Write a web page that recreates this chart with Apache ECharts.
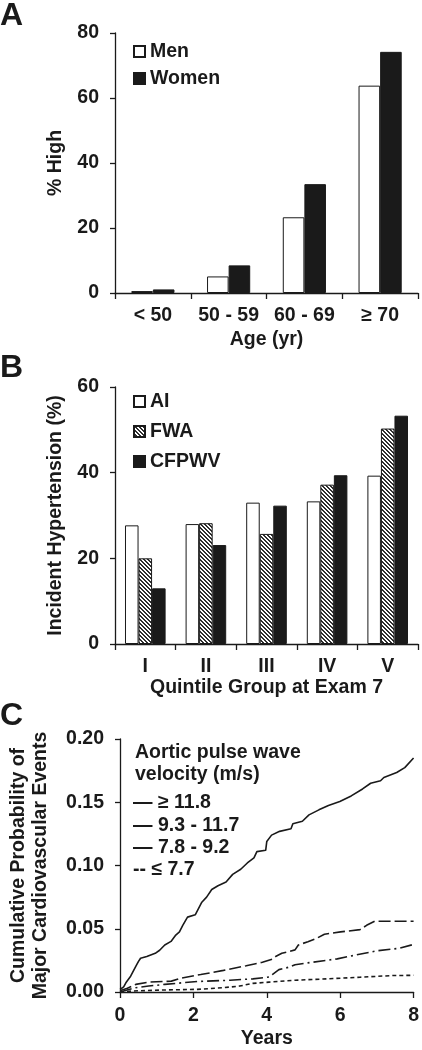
<!DOCTYPE html>
<html>
<head>
<meta charset="utf-8">
<script src="https://cdn.jsdelivr.net/npm/echarts@6/dist/echarts.min.js"></script>
<style>
html,body{margin:0;padding:0;background:#fff;}
#chart{width:422px;height:1050px;}
</style>
</head>
<body>
<div id="chart"></div>
<script>
// ---------- DATA ----------
const ageGroups = ['< 50', '50 - 59', '60 - 69', '\u2265 70'];
const menHigh = [0.6, 5.1, 23.3, 63.8];
const womenHigh = [1.1, 8.5, 33.5, 74.2];

const quintiles = ['I', 'II', 'III', 'IV', 'V'];
const aiIncident = [27.7, 28.0, 33.0, 33.3, 39.3];
const fwaIncident = [20.0, 28.2, 25.7, 37.2, 50.3];
const cfpwvIncident = [13.0, 23.1, 32.3, 39.4, 53.3];

const pwvLegendLines = ['\u2014 \u2265 11.8', '\u2014 9.3 - 11.7', '\u2014 7.8 - 9.2', '-- \u2264 7.7'];

const pwvHigh = [[0,0.002],[0.1,0.004],[0.16,0.0073],[0.29,0.0125],[0.43,0.0203],[0.5,0.024],[0.56,0.0267],[0.73,0.028],[0.96,0.0306],[1.08,0.033],[1.22,0.0372],[1.39,0.040],[1.52,0.045],[1.62,0.0475],[1.71,0.0527],[1.84,0.0592],[2.05,0.061],[2.23,0.071],[2.36,0.075],[2.50,0.081],[2.67,0.084],[2.89,0.087],[3.07,0.093],[3.29,0.097],[3.47,0.102],[3.65,0.106],[3.73,0.111],[3.97,0.112],[4.0,0.119],[4.13,0.124],[4.35,0.127],[4.66,0.129],[4.71,0.133],[4.97,0.135],[5.15,0.140],[5.42,0.144],[5.68,0.1475],[5.99,0.1506],[6.30,0.155],[6.61,0.1605],[6.83,0.165],[7.10,0.167],[7.19,0.1696],[7.54,0.1735],[7.76,0.1774],[8.0,0.185]];
const pwvMidHigh = [[0,0.001],[0.2,0.003],[0.43,0.006],[0.78,0.0078],[1.4,0.0086],[1.67,0.011],[2.2,0.0138],[2.82,0.0171],[3.44,0.0208],[3.88,0.0235],[4.15,0.026],[4.24,0.028],[4.41,0.0306],[4.77,0.0333],[4.86,0.0372],[5.12,0.0397],[5.35,0.0423],[5.57,0.0457],[6.01,0.0475],[6.54,0.0493],[6.72,0.0527],[6.94,0.0559],[8.0,0.0559]];
const pwvMidLow = [[0,0],[0.43,0.0034],[0.78,0.0047],[1.22,0.006],[1.67,0.0072],[2.11,0.0083],[3.0,0.0093],[3.62,0.0104],[4.06,0.0118],[4.15,0.0138],[4.33,0.0177],[4.59,0.0195],[4.77,0.0216],[5.21,0.0234],[5.92,0.0262],[6.45,0.0294],[6.99,0.0325],[7.6,0.0345],[8.0,0.0376]];
const pwvLow = [[0,0],[0.34,0.0008],[1.22,0.0016],[2.11,0.0021],[2.82,0.0034],[3.26,0.0047],[3.62,0.0068],[4.06,0.0078],[4.77,0.0093],[5.65,0.0104],[6.54,0.0117],[7.43,0.013],[8.0,0.0132]];

const yTicksA = [0, 80, 20];
const yTicksB = [0, 60, 20];
const yTicksC = [0, 0.2, 0.05];
const xTicksC = [0, 8, 2];

// ---------- STYLE ----------
const FONT = "'Liberation Sans', Arial, sans-serif";
const INK = '#1a1a1a';
const FS = 19.5;

function hatch() {
  const c = document.createElement('canvas');
  c.width = 4; c.height = 4;
  const g = c.getContext('2d');
  g.fillStyle = '#ffffff'; g.fillRect(0, 0, 4, 4);
  g.fillStyle = '#2e2e2e';
  for (let i = 0; i < 4; i++) {
    g.fillRect(i, i, 1, 1);
    g.fillRect((i + 1) % 4, i, 1, 1);
  }
  return {image: c, repeat: 'repeat'};
}

const labelStyle = {fontFamily: FONT, fontWeight: 'bold', fontSize: FS, color: INK};
const axisLine = {show: true, lineStyle: {color: INK, width: 1.3}};

function catX(grid, data, name, gap) {
  return {type: 'category', gridIndex: grid, data: data,
    axisLine: axisLine, axisTick: {show: true, length: 6, interval: 0, lineStyle: {color: INK, width: 1.3}},
    axisLabel: Object.assign({margin: 13, interval: 0, hideOverlap: false}, labelStyle),
    name: name, nameLocation: 'middle', nameGap: gap, nameTextStyle: labelStyle};
}
function valY(grid, t, name, gap, fmt) {
  return {type: 'value', gridIndex: grid, min: t[0], max: t[1], interval: t[2],
    axisLine: axisLine, axisTick: {show: true, length: 5, lineStyle: {color: INK, width: 1.3}},
    splitLine: {show: false},
    axisLabel: Object.assign({margin: 16, formatter: fmt}, labelStyle),
    name: name, nameLocation: 'middle', nameGap: gap, nameRotate: 90,
    nameTextStyle: Object.assign({lineHeight: 22}, labelStyle)};
}
function barSeries(name, x, data, color, catGap) {
  return {type: 'bar', name: name, xAxisIndex: x, yAxisIndex: x, data: data,
    barGap: '0%', barCategoryGap: catGap,
    itemStyle: {color: color, borderColor: INK, borderWidth: 1}};
}
function lineSeries(name, data, dash) {
  return {type: 'line', name: name, xAxisIndex: 2, yAxisIndex: 2, data: data,
    showSymbol: false, symbol: 'none',
    lineStyle: {color: INK, width: 1.6, type: dash}};
}

const panelLetter = (t, y) => ({type: 'text', left: 0, top: y,
  style: {text: t, font: "bold 32px " + FONT, fill: INK}});
const legFont = 'bold ' + FS + 'px ' + FONT;
const cLegend = [];
cLegend.push({type: 'text', left: 135, top: 743, style: {text: 'Aortic pulse wave', font: legFont, fill: INK}});
cLegend.push({type: 'text', left: 135, top: 765, style: {text: 'velocity (m/s)', font: legFont, fill: INK}});
pwvLegendLines.forEach((s, i) => {
  cLegend.push({type: 'text', left: 133, top: 793 + i * 22.3, style: {text: s, font: legFont, fill: INK}});
});

const chart = echarts.init(document.getElementById('chart'), null, {renderer: 'canvas'});
chart.setOption({
  animation: false,
  backgroundColor: '#fff',
  textStyle: {fontFamily: FONT},
  grid: [
    {left: 115, top: 33, width: 303, height: 260},
    {left: 115, top: 387, width: 303, height: 257},
    {left: 116, top: 739, width: 301, height: 257}
  ],
  legend: [
    {data: ['Men', 'Women'], orient: 'vertical', left: 128, top: 36, itemWidth: 11, itemHeight: 11,
     itemGap: 6, icon: 'rect', textStyle: Object.assign({lineHeight: 21}, labelStyle), selectedMode: false},
    {data: ['AI', 'FWA', 'CFPWV'], orient: 'vertical', left: 128, top: 386, itemWidth: 11, itemHeight: 11,
     itemGap: 9, icon: 'rect', textStyle: Object.assign({lineHeight: 21}, labelStyle), selectedMode: false}
  ],
  xAxis: [
    catX(0, ageGroups, 'Age (yr)', 37),
    catX(1, quintiles, 'Quintile Group at Exam 7', 34),
    {type: 'value', gridIndex: 2, min: xTicksC[0], max: xTicksC[1], interval: xTicksC[2],
     axisLine: axisLine, axisTick: {show: true, length: 6, lineStyle: {color: INK, width: 1.3}},
     splitLine: {show: false}, axisLabel: Object.assign({margin: 14}, labelStyle),
     name: 'Years', nameLocation: 'middle', nameGap: 37, nameTextStyle: labelStyle}
  ],
  yAxis: [
    valY(0, yTicksA, '% High', 47),
    valY(1, yTicksB, 'Incident Hypertension (%)', 47),
    valY(2, yTicksC, 'Cumulative Probability of\nMajor Cardiovascular Events', 68, v => v.toFixed(2))
  ],
  graphic: [panelLetter('A', 0), panelLetter('B', 352), panelLetter('C', 700)].concat(cLegend),
  series: [
    barSeries('Men', 0, menHigh, '#ffffff', '43%'),
    barSeries('Women', 0, womenHigh, INK, '43%'),
    barSeries('AI', 1, aiIncident, '#ffffff', '33%'),
    barSeries('FWA', 1, fwaIncident, hatch(), '33%'),
    barSeries('CFPWV', 1, cfpwvIncident, INK, '33%'),
    lineSeries('\u2265 11.8', pwvHigh, 'solid'),
    lineSeries('9.3 - 11.7', pwvMidHigh, [12, 4]),
    lineSeries('7.8 - 9.2', pwvMidLow, [12, 4, 2, 4]),
    lineSeries('\u2264 7.7', pwvLow, [4, 3])
  ]
});
</script>
</body>
</html>
